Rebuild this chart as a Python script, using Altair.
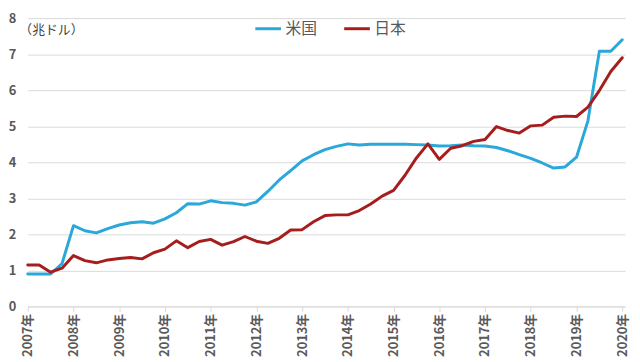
import altair as alt
import pandas as pd

YEARS = list(range(2007, 2021))
YEAR_LABELS = [f"{y}年" for y in YEARS]
SERIES = ["米国", "日本"]
COLORS = ["#29A8D9", "#A61D1D"]

# quarterly values, 2007Q1 .. 2020Q1 (trillion USD)
US = [0.90, 0.90, 0.90, 1.19, 2.24, 2.10, 2.04, 2.16, 2.26, 2.32,
      2.35, 2.31, 2.43, 2.60, 2.85, 2.84, 2.93, 2.88, 2.86, 2.81,
      2.90, 3.19, 3.51, 3.77, 4.04, 4.21, 4.35, 4.44, 4.51, 4.48,
      4.50, 4.50, 4.50, 4.50, 4.49, 4.48, 4.45, 4.46, 4.48, 4.46,
      4.45, 4.41, 4.32, 4.21, 4.11, 3.98, 3.84, 3.87, 4.14, 5.15,
      7.08, 7.08, 7.40]
JAPAN = [1.15, 1.15, 0.95, 1.06, 1.41, 1.27, 1.21, 1.29, 1.33, 1.36,
         1.32, 1.49, 1.59, 1.82, 1.63, 1.80, 1.86, 1.70, 1.80, 1.94,
         1.81, 1.75, 1.89, 2.12, 2.13, 2.35, 2.52, 2.54, 2.54, 2.66,
         2.84, 3.06, 3.22, 3.64, 4.12, 4.51, 4.08, 4.39, 4.46, 4.58,
         4.63, 4.99, 4.88, 4.81, 5.01, 5.03, 5.25, 5.28, 5.27, 5.53,
         5.99, 6.52, 6.90]

rows = []
for name, vals in zip(SERIES, [US, JAPAN]):
    for i, v in enumerate(vals):
        rows.append({"q": i, "value": v, "country": name, "ord": SERIES.index(name)})
df = pd.DataFrame(rows)

label_expr = "[" + ",".join(f"'{s}'" for s in YEAR_LABELS) + "][round(datum.value/4)]"
FONT = "Noto Sans CJK JP"

chart = alt.Chart(df).mark_line(strokeWidth=3, strokeJoin="round", strokeCap="round").encode(
    x=alt.X("q:Q",
            scale=alt.Scale(domain=[0, 52.25], nice=False, zero=False),
            axis=alt.Axis(values=list(range(0, 53, 4)), labelExpr=label_expr,
                          labelAngle=270, title=None, grid=False,
                          domainColor="#D9D9D9", tickColor="#D9D9D9", tickSize=5,
                          labelPadding=2, labelFontSize=13, labelFontWeight="bold",
                          labelColor="#595959", labelFont=FONT)),
    y=alt.Y("value:Q",
            scale=alt.Scale(domain=[0, 8], nice=False),
            axis=alt.Axis(values=list(range(9)), title="（兆ドル）", titleAngle=0,
                          titleAlign="left", titleBaseline="middle", titleX=-9, titleY=12,
                          titleFont=FONT, titleFontSize=13, titleFontWeight="normal",
                          titleColor="#3F3F3F",
                          grid=True, gridColor="#D9D9D9", domain=False, ticks=False,
                          labelPadding=12, labelFontSize=13, labelFontWeight="bold",
                          labelColor="#595959", labelFont=FONT)),
    color=alt.Color("country:N",
                    scale=alt.Scale(domain=SERIES, range=COLORS),
                    legend=alt.Legend(orient="none", legendX=229, legendY=-4,
                                      direction="horizontal", title=None,
                                      symbolType="stroke", symbolSize=676,
                                      symbolStrokeWidth=3, labelFontSize=16,
                                      labelColor="#595959", labelFont=FONT,
                                      columnPadding=20, labelOffset=3, padding=0)),
    order=alt.Order("ord:Q"),
).properties(
    width=605, height=292,
    padding={"left": 20, "top": 8, "right": 7, "bottom": 50},
    autosize="none",
).configure_view(stroke=None)

chart.save("out.html", embed_options={"renderer": "svg", "actions": False})
